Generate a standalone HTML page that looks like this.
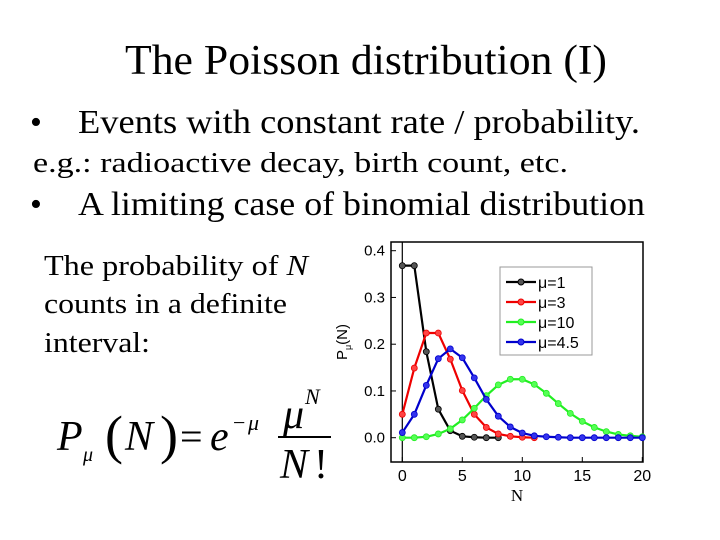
<!DOCTYPE html>
<html><head><meta charset="utf-8"><style>
body{margin:0;background:#fff}
svg{display:block}
.serif{font-family:"Liberation Serif",serif}
.sans{font-family:"Liberation Sans",sans-serif}
</style></head><body>
<svg width="720" height="540" viewBox="0 0 720 540" xmlns="http://www.w3.org/2000/svg">
<text class="serif" x="125" y="74" font-size="42" textLength="482" lengthAdjust="spacingAndGlyphs">The Poisson distribution (I)</text>
<text class="serif" x="30" y="133" font-size="34">•</text>
<text class="serif" x="78" y="133" font-size="34" textLength="562" lengthAdjust="spacingAndGlyphs">Events with constant rate / probability.</text>
<text class="serif" x="33" y="172" font-size="28" textLength="535" lengthAdjust="spacingAndGlyphs">e.g.: radioactive decay, birth count, etc.</text>
<text class="serif" x="30" y="215" font-size="34">•</text>
<text class="serif" x="78" y="215" font-size="34" textLength="567" lengthAdjust="spacingAndGlyphs">A limiting case of binomial distribution</text>
<g class="serif" font-size="29">
<text x="44" y="275" textLength="264" lengthAdjust="spacingAndGlyphs">The probability of <tspan font-style="italic">N</tspan></text>
<text x="44" y="313" textLength="243" lengthAdjust="spacingAndGlyphs">counts in a definite</text>
<text x="44" y="352" textLength="106" lengthAdjust="spacingAndGlyphs">interval:</text>
</g>
<g class="serif" font-style="italic">
<text x="57" y="450" font-size="42">P</text>
<text x="83" y="461" font-size="20">μ</text>
<text x="105" y="453" font-size="54" font-style="normal">(</text>
<text x="125" y="450" font-size="42">N</text>
<text x="160" y="453" font-size="54" font-style="normal">)</text>
<text x="180" y="450" font-size="40" font-style="normal">=</text>
<text x="210" y="450" font-size="42">e</text>
<text x="233" y="430" font-size="22" font-style="normal">−</text>
<text x="248" y="430" font-size="22">μ</text>
<text x="283" y="428" font-size="42">μ</text>
<text x="305" y="404" font-size="22">N</text>
<line x1="278" y1="437" x2="331" y2="437" stroke="#000" stroke-width="2"/>
<text x="280" y="478" font-size="42">N</text>
<text x="314" y="478" font-size="42" font-style="normal">!</text>
</g>
<g id="chart"></g>
</svg>
<script>
const xTicks=[0,5,10,15,20];
const yTicks=[0.0,0.1,0.2,0.3,0.4];
const yTickLabels=["0.0","0.1","0.2","0.3","0.4"];
const seriesNames=["μ=1","μ=3","μ=10","μ=4.5"];
const mu1=[0.368,0.368,0.184,0.061,0.015,0.003,0.001,0.000,0.000];
const mu3=[0.050,0.149,0.224,0.224,0.168,0.101,0.050,0.022,0.008,0.003,0.001,0.000];
const mu10=[0.000,0.000,0.002,0.008,0.019,0.038,0.063,0.090,0.113,0.125,0.125,0.114,0.095,0.073,0.052,0.035,0.022,0.013,0.007,0.004,0.002];
const mu45=[0.011,0.050,0.112,0.169,0.190,0.171,0.128,0.082,0.046,0.023,0.010,0.004,0.002,0.001,0.000,0.000,0.000,0.000,0.000,0.000,0.000];
const NS="http://www.w3.org/2000/svg";
const g=document.getElementById('chart');
const L=391,R=643,T=242,B=462;
const xs=v=>402.3+v*12;
const ys=v=>437.7-v*467.5;
function mk(t,a,p){const e=document.createElementNS(NS,t);for(const k in a)e.setAttribute(k,a[k]);(p||g).appendChild(e);return e;}
const frame=mk('rect',{x:L,y:T,width:R-L,height:B-T,fill:'none',stroke:'#000','stroke-width':1.5});


const zl=mk('line',{x1:xs(0),x2:xs(0),y1:T,y2:B,stroke:'#000','stroke-width':1.2});


yTicks.forEach((v,i)=>{
  mk('line',{x1:L,x2:L+5,y1:ys(v),y2:ys(v),stroke:'#000'});
  const t=mk('text',{x:L-6,y:ys(v)+5,'font-size':15,'text-anchor':'end','font-family':'Liberation Sans, sans-serif'});
  t.textContent=yTickLabels[i];
  
  
});
xTicks.forEach(v=>{
  mk('line',{x1:xs(v),x2:xs(v),y1:B,y2:B-5,stroke:'#000'});
  const t=mk('text',{x:xs(v),y:B+19,'font-size':16,'text-anchor':'middle','font-family':'Liberation Sans, sans-serif'});
  t.textContent=String(v);
  
  
});
const xt=mk('text',{x:517,y:501,'font-size':17,'text-anchor':'middle','font-family':'Liberation Serif, serif'});
xt.textContent='N';


const yt=mk('text',{transform:'translate(347,342) rotate(-90)','font-size':15,'text-anchor':'middle','font-family':'Liberation Sans, sans-serif'});
yt.innerHTML='P<tspan font-size="9" dy="4">μ</tspan><tspan dy="-4">(N)</tspan>';


const cols=['#000','#e00','#2e2','#00c'];
const fills=['#555','#f44','#5f5','#33e'];
[mu1,mu3,mu10,mu45].forEach((arr,si)=>{
  const sg=mk('g',{});
  
  
  mk('polyline',{points:arr.map((v,i)=>xs(i)+','+ys(v)).join(' '),fill:'none',stroke:cols[si],'stroke-width':2.2},sg);
  arr.forEach((v,i)=>{
    const c=mk('circle',{cx:xs(i),cy:ys(v),r:3,fill:fills[si],stroke:cols[si],'stroke-width':0.8},sg);
    
    
  });
});
const lg=mk('g',{});


mk('rect',{x:500,y:267,width:92,height:88,fill:'#fff',stroke:'#999','stroke-width':1},lg);
seriesNames.forEach((n,i)=>{
  const y=282+i*20;
  mk('line',{x1:506,x2:536,y1:y,y2:y,stroke:cols[i],'stroke-width':2.2},lg);
  mk('circle',{cx:521,cy:y,r:3,fill:fills[i],stroke:cols[i]},lg);
  const t=mk('text',{x:538,y:y+6,'font-size':16,'font-family':'Liberation Sans, sans-serif'},lg);
  t.textContent=n;
  
  
});
</script>
</body></html>
